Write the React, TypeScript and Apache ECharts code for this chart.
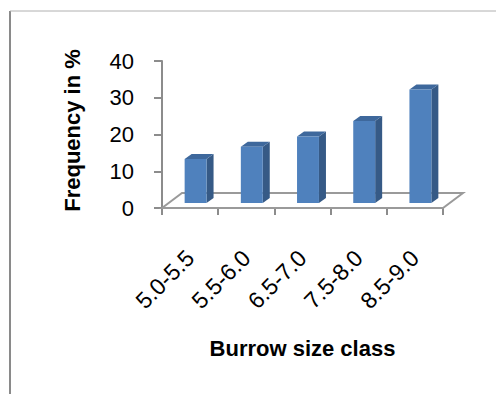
import React, { useEffect, useRef } from "react";
import * as echarts from "echarts";

const categories = ["5.0-5.5", "5.5-6.0", "6.5-7.0", "7.5-8.0", "8.5-9.0"];
const frequencies = [12, 15.3, 18.1, 22.3, 30.9];
const yMin = 0;
const yMax = 40;
const yInterval = 10;
const xAxisTitle = "Burrow size class";
const yAxisTitle = "Frequency in %";

export default function App() {
  const ref = useRef<HTMLDivElement>(null);
  useEffect(() => {
    const chart = echarts.init(ref.current!, null, { renderer: "svg" });
    const FONT = "'Liberation Sans', Arial, sans-serif";
    const AXIS = "#8c8c8c";
    const floorDX = 20;
    const floorDY = -15;
    const barShiftX = 5.5;
    const barShiftY = -5;
    const barDX = 7;
    const barDY = -5;

    const option = {
      animation: false,
      backgroundColor: "#ffffff",
      grid: { left: 162, right: 53, top: 61, bottom: 186 },
      graphic: [
        { type: "line", shape: { x1: 10, y1: 11, x2: 10, y2: 394 }, style: { stroke: "#8a8a8a", lineWidth: 2 } },
        { type: "line", shape: { x1: 10, y1: 11, x2: 496, y2: 11 }, style: { stroke: "#b0b0b0", lineWidth: 1 } },
      ],
      xAxis: {
        type: "category",
        data: categories,
        boundaryGap: true,
        axisLine: { show: true, lineStyle: { color: AXIS, width: 2 } },
        axisTick: { show: true, length: 7, interval: 0, lineStyle: { color: AXIS, width: 2 } },
        axisLabel: {
          rotate: 45,
          interval: 0,
          margin: 46,
          padding: [20, 0, 0, 0],
          fontSize: 23,
          fontFamily: FONT,
          color: "#000",
          hideOverlap: false,
        },
        name: xAxisTitle,
        nameLocation: "middle",
        nameGap: 129,
        nameTextStyle: { fontSize: 22, fontWeight: "bold", fontFamily: FONT, color: "#000" },
      },
      yAxis: {
        type: "value",
        min: yMin,
        max: yMax,
        interval: yInterval,
        axisLine: { show: true, lineStyle: { color: AXIS, width: 2 } },
        axisTick: { show: true, length: 8, lineStyle: { color: AXIS, width: 2 } },
        splitLine: { show: false },
        axisLabel: { margin: 28, fontSize: 22, fontFamily: FONT, color: "#000" },
        name: yAxisTitle,
        nameLocation: "middle",
        nameRotate: 90,
        nameGap: 79,
        nameTextStyle: {
          fontSize: 22,
          fontWeight: "bold",
          fontFamily: FONT,
          color: "#000",
          padding: [0, 0, 0, 8],
        },
      },
      series: [
        {
          type: "custom",
          z: 1,
          silent: true,
          data: [[0, 0]],
          renderItem: (params: any, api: any) => {
            const band = api.size([1, 0])[0];
            const p0 = api.coord([0, 0]);
            const pN = api.coord([categories.length - 1, 0]);
            const l = p0[0] - band / 2;
            const r = pN[0] + band / 2;
            const y = p0[1];
            return {
              type: "polygon",
              shape: {
                points: [
                  [l, y],
                  [l + floorDX, y + floorDY],
                  [r + floorDX, y + floorDY],
                  [r, y],
                ],
              },
              style: { fill: "#ffffff", stroke: "#9a9a9a", lineWidth: 2 },
            };
          },
        },
        {
          type: "custom",
          z: 3,
          data: frequencies.map((v, i) => [i, v]),
          renderItem: (params: any, api: any) => {
            const idx = api.value(0);
            const v = api.value(1);
            const band = api.size([1, 0])[0];
            const c0 = api.coord([idx, 0]);
            const c1 = api.coord([idx, v]);
            const w = band * 0.39;
            const cx = c0[0] + barShiftX;
            const xl = cx - w / 2;
            const xr = cx + w / 2;
            const yb = c0[1] + barShiftY;
            const yt = c1[1] + barShiftY;
            return {
              type: "group",
              children: [
                {
                  type: "polygon",
                  shape: {
                    points: [
                      [xr, yt],
                      [xr + barDX, yt + barDY],
                      [xr + barDX, yb + barDY],
                      [xr, yb],
                    ],
                  },
                  style: { fill: "#365a86" },
                },
                {
                  type: "polygon",
                  shape: {
                    points: [
                      [xl, yt],
                      [xl + barDX, yt + barDY],
                      [xr + barDX, yt + barDY],
                      [xr, yt],
                    ],
                  },
                  style: { fill: "#3e689c" },
                },
                {
                  type: "rect",
                  shape: { x: xl, y: yt, width: w, height: yb - yt },
                  style: { fill: "#4f81bd" },
                },
              ],
            };
          },
        },
      ],
    };
    chart.setOption(option as any);
    return () => chart.dispose();
  }, []);
  return (
    <div
      ref={ref}
      style={{ position: "absolute", left: 0, top: 0, width: 496, height: 394 }}
    />
  );
}
